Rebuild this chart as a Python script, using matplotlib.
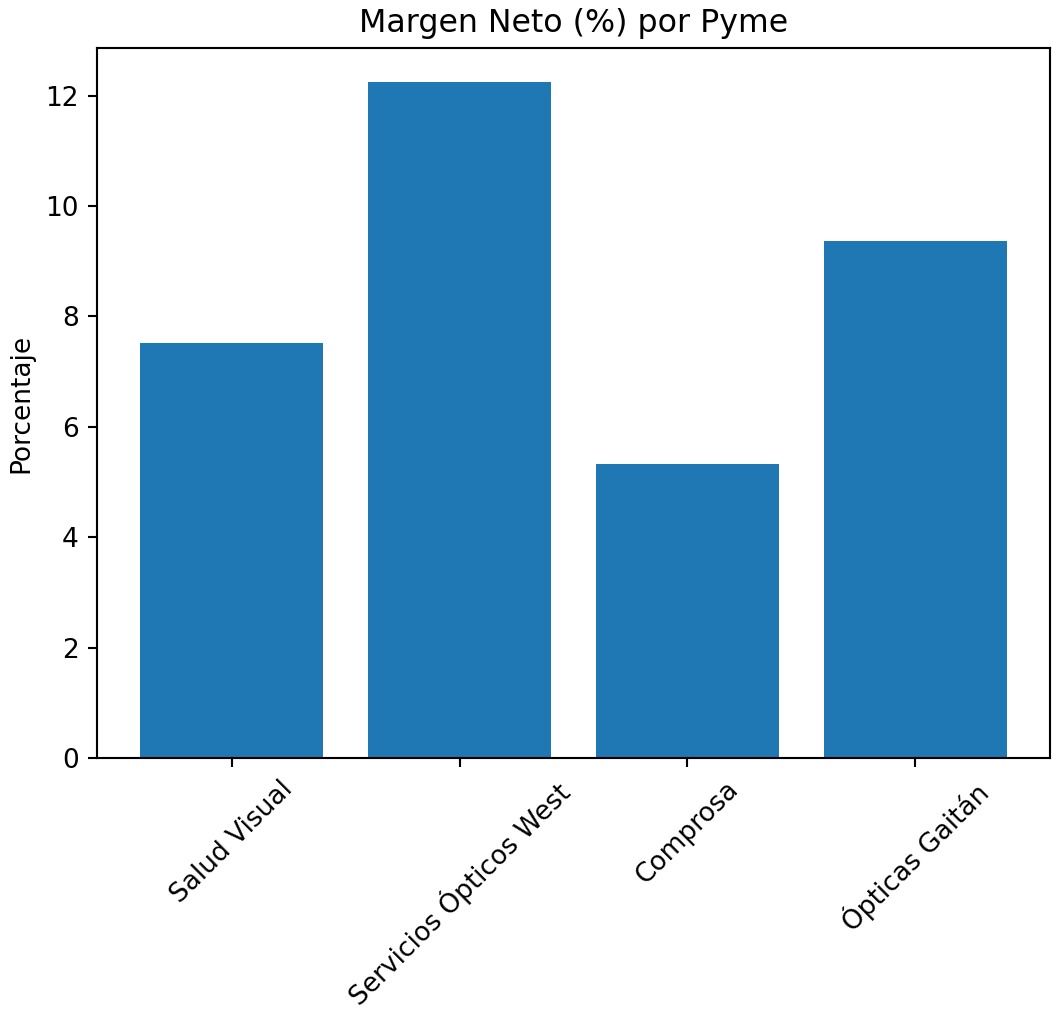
import matplotlib
matplotlib.use('Agg')
import matplotlib.pyplot as plt

# data
pymes = ['Salud Visual', 'Servicios Ópticos West', 'Comprosa', 'Ópticas Gaitán']
margen_neto = [7.52, 12.25, 5.33, 9.36]

W, H = 1053, 1016
DPI = 190
fig = plt.figure(figsize=(W / DPI, H / DPI), dpi=DPI)
ax = fig.add_axes([97 / W, 1 - 758 / H, (1050 - 97) / W, (758 - 48) / H])

ax.bar(pymes, margen_neto, color='#1f77b4')
ax.set_title('Margen Neto (%) por Pyme')
ax.set_ylabel('Porcentaje')
plt.setp(ax.get_xticklabels(), rotation=45, ha='center')

fig.savefig('out.png', dpi=DPI)
